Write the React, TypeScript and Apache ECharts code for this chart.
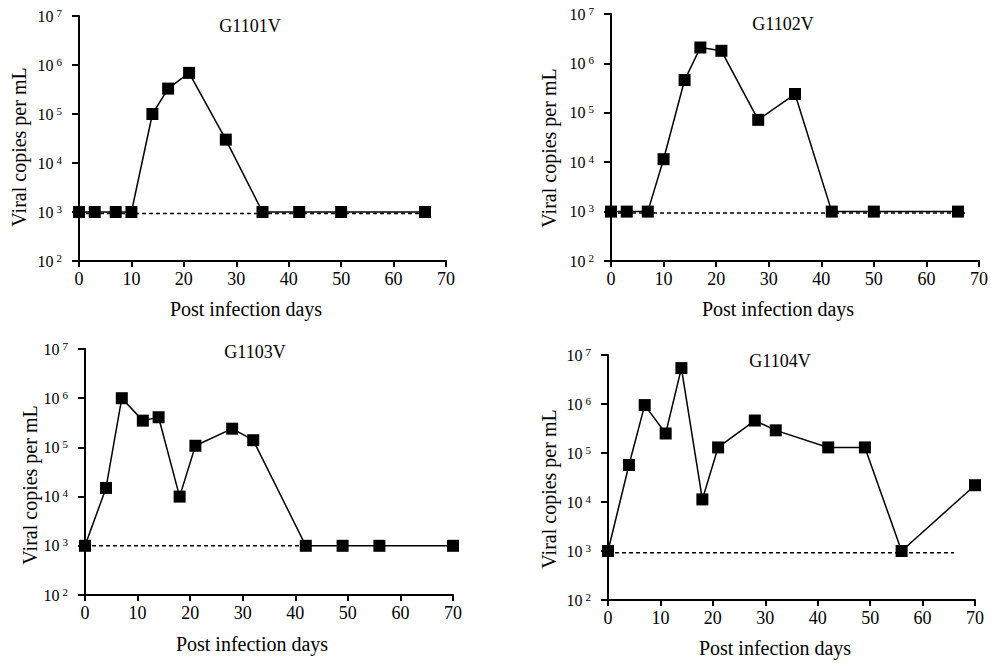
import React, { useEffect, useRef } from "react";
import * as echarts from "echarts";

const panelTitles = ["G1101V", "G1102V", "G1103V", "G1104V"];

const days1 = [0, 3, 7, 10, 14, 17, 21, 28, 35, 42, 50, 66];
const copies1 = [1000, 1000, 1000, 1000, 100000, 330000, 690000, 30000, 1000, 1000, 1000, 1000];

const days2 = [0, 3, 7, 10, 14, 17, 21, 28, 35, 42, 50, 66];
const copies2 = [1000, 1000, 1000, 11500, 460000, 2100000, 1800000, 72000, 240000, 1000, 1000, 1000];

const days3 = [0, 4, 7, 11, 14, 18, 21, 28, 32, 42, 49, 56, 70];
const copies3 = [1000, 15000, 1000000, 350000, 410000, 10000, 108000, 240000, 140000, 1000, 1000, 1000, 1000];

const days4 = [0, 4, 7, 11, 14, 18, 21, 28, 32, 42, 49, 56, 70];
const copies4 = [1000, 57000, 950000, 250000, 5400000, 11300, 130000, 460000, 290000, 130000, 130000, 1000, 22000];

// detection-limit dashed lines: [startDay, endDay], level
const limitDays = [[0, 67], [0, 67.5], [0, 42], [0, 66]];
const limitLevels = [930, 940, 1000, 920];

const xTicks = { min: 0, max: 70, interval: 10 };
const yRange = { min: 100, max: 10000000 };

const xAxisName = "Post infection days";
const yAxisName = "Viral copies per mL";

const FONT = "'Liberation Serif', 'Times New Roman', serif";

export default function App() {
  const ref = useRef<HTMLDivElement>(null);
  useEffect(() => {
    document.body.style.margin = "0";
    if (!ref.current) return;
    const chart = echarts.init(ref.current, null, { renderer: "svg" });

    const grids = [
      { left: 79, top: 16, width: 367, height: 245 },
      { left: 611, top: 14, width: 368, height: 247 },
      { left: 85, top: 349, width: 368, height: 246 },
      { left: 608, top: 355, width: 367, height: 245 },
    ];
    const titlePos = [
      [250, 26],
      [783, 24],
      [255, 352],
      [780, 361],
    ];
    const yNamePos = [
      [19, 147],
      [549, 148],
      [30, 485],
      [549, 489],
    ];
    const xNamePos = [
      [246, 309],
      [778, 309],
      [252, 644],
      [775, 648],
    ];
    const days = [days1, days2, days3, days4];
    const copies = [copies1, copies2, copies3, copies4];

    const xAxes = grids.map((_, i) => ({
      type: "value",
      gridIndex: i,
      min: xTicks.min,
      max: xTicks.max,
      interval: xTicks.interval,
      splitLine: { show: false },
      axisLine: { onZero: false, lineStyle: { color: "#000", width: 2 } },
      axisTick: { length: 6, lineStyle: { color: "#000", width: 2 } },
      axisLabel: { color: "#000", fontSize: 18, fontFamily: FONT, margin: 9 },
    }));

    const yAxes = grids.map((_, i) => ({
      type: "log",
      logBase: 10,
      gridIndex: i,
      min: yRange.min,
      max: yRange.max,
      splitLine: { show: false },
      minorTick: { show: false },
      axisLine: { onZero: false, lineStyle: { color: "#000", width: 2 } },
      axisTick: { length: 7, lineStyle: { color: "#000", width: 2 } },
      axisLabel: {
        color: "#000",
        margin: 17,
        formatter: (v: number) => `{a|10}{b|${Math.round(Math.log10(v))}}`,
        rich: {
          a: { fontSize: 16, fontFamily: FONT, color: "#000", lineHeight: 18 },
          b: { fontSize: 11, fontFamily: FONT, color: "#000", verticalAlign: "top", lineHeight: 10, padding: [0, 0, 0, 3] },
        },
      },
    }));

    const series: any[] = [];
    grids.forEach((_, i) => {
      series.push({
        type: "line",
        xAxisIndex: i,
        yAxisIndex: i,
        data: [
          [limitDays[i][0], limitLevels[i]],
          [limitDays[i][1], limitLevels[i]],
        ],
        symbol: "none",
        lineStyle: { color: "#000", width: 1.5, type: [4, 3] },
        z: 1,
        silent: true,
      });
      series.push({
        type: "line",
        xAxisIndex: i,
        yAxisIndex: i,
        data: days[i].map((d, k) => [d, copies[i][k]]),
        symbol: "rect",
        symbolSize: 12,
        itemStyle: { color: "#000" },
        lineStyle: { color: "#000", width: 1.5 },
        clip: false,
        z: 3,
      });
    });

    const graphic: any[] = [];
    grids.forEach((_, i) => {
      graphic.push({
        type: "text",
        x: titlePos[i][0],
        y: titlePos[i][1],
        style: { text: panelTitles[i], font: `18px ${FONT}`, fill: "#000", textAlign: "center", textVerticalAlign: "middle" },
      });
      graphic.push({
        type: "text",
        x: yNamePos[i][0],
        y: yNamePos[i][1],
        rotation: Math.PI / 2,
        style: { text: yAxisName, font: `20px ${FONT}`, fill: "#000", textAlign: "center", textVerticalAlign: "middle" },
      });
      graphic.push({
        type: "text",
        x: xNamePos[i][0],
        y: xNamePos[i][1],
        style: { text: xAxisName, font: `20px ${FONT}`, fill: "#000", textAlign: "center", textVerticalAlign: "middle" },
      });
    });

    chart.setOption({
      animation: false,
      backgroundColor: "#fff",
      grid: grids,
      xAxis: xAxes,
      yAxis: yAxes,
      series,
      graphic,
    });
    return () => chart.dispose();
  }, []);
  return <div ref={ref} style={{ width: 991, height: 663 }} />;
}
